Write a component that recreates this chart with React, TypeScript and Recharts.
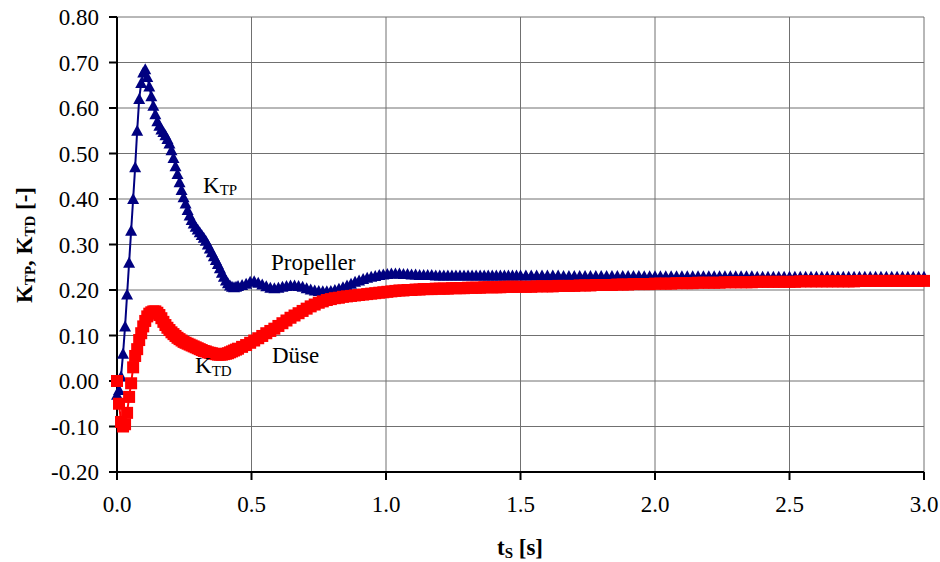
import React from "react";
import { LineChart, Line, XAxis, YAxis, CartesianGrid } from "recharts";

const SERIF = "'Liberation Serif', 'Times New Roman', serif";

// Start-up phase, fine time step (s)
const tA = [
  0, 0.0075, 0.015, 0.0225, 0.03, 0.0375, 0.045, 0.0525, 0.06, 0.0675,
  0.075, 0.0825, 0.09, 0.0975, 0.105, 0.1125, 0.12, 0.1275, 0.135, 0.1425,
  0.15, 0.1575, 0.165, 0.1725, 0.18, 0.1875, 0.195, 0.2025, 0.21, 0.2175,
  0.225, 0.2325, 0.24, 0.2475, 0.255, 0.2625, 0.27, 0.2775, 0.285, 0.2925,
  0.3, 0.3075, 0.315, 0.3225, 0.33, 0.3375, 0.345, 0.3525, 0.36, 0.3675,
  0.375, 0.3825, 0.39, 0.3975, 0.405, 0.4125, 0.42, 0.4275, 0.435, 0.4425,
  0.45,
];
const kTpA = [
  -0.03, -0.02, 0.01, 0.06, 0.12, 0.19, 0.26, 0.33, 0.4, 0.47,
  0.55, 0.62, 0.655, 0.678, 0.685, 0.668, 0.647, 0.626, 0.605, 0.586,
  0.571, 0.561, 0.553, 0.547, 0.54, 0.532, 0.522, 0.507, 0.49, 0.472,
  0.455, 0.437, 0.42, 0.404, 0.39, 0.376, 0.364, 0.354, 0.346, 0.339,
  0.333, 0.327, 0.321, 0.315, 0.308, 0.3, 0.291, 0.283, 0.274, 0.266,
  0.257, 0.248, 0.238, 0.229, 0.221, 0.215, 0.21, 0.207, 0.206, 0.207,
  0.209,
];
const kTdA = [
  0, -0.05, -0.09, -0.1, -0.095, -0.07, -0.035, -0.005, 0.03, 0.055,
  0.07, 0.09, 0.105, 0.12, 0.132, 0.142, 0.148, 0.151, 0.153, 0.153,
  0.15, 0.145, 0.138, 0.13, 0.123, 0.117, 0.112, 0.107, 0.103, 0.099,
  0.095, 0.092, 0.089, 0.086, 0.084, 0.082, 0.08, 0.078, 0.076, 0.074,
  0.072, 0.07, 0.068, 0.066, 0.065, 0.063, 0.062, 0.061, 0.06, 0.059,
  0.058, 0.058, 0.058, 0.059, 0.06, 0.061, 0.063, 0.065, 0.067, 0.069,
  0.071,
];

// Settling phase
const tB = [
  0.465, 0.48, 0.495, 0.51, 0.525, 0.54, 0.555, 0.57, 0.585, 0.6,
  0.615, 0.63, 0.645, 0.66, 0.675, 0.69, 0.705, 0.72, 0.735, 0.75,
  0.765, 0.78, 0.795, 0.81, 0.825, 0.84, 0.855, 0.87, 0.885, 0.9,
  0.915, 0.93, 0.945, 0.96, 0.975, 0.99, 1.005, 1.02, 1.035, 1.05,
  1.065, 1.08, 1.095, 1.11, 1.125, 1.14, 1.155, 1.17, 1.185, 1.2,
  1.215, 1.23, 1.245, 1.26, 1.275, 1.29, 1.305, 1.32, 1.335, 1.35,
  1.365, 1.38, 1.395, 1.41, 1.425, 1.44, 1.455, 1.47, 1.485, 1.5,
];
const kTpB = [
  0.211, 0.214, 0.218, 0.219, 0.216, 0.212, 0.208, 0.205, 0.204, 0.205,
  0.207, 0.209, 0.21, 0.21, 0.209, 0.207, 0.204, 0.201, 0.199, 0.198,
  0.197, 0.197, 0.198, 0.2, 0.203, 0.206, 0.21, 0.214, 0.218, 0.221,
  0.224, 0.227, 0.229, 0.231, 0.233, 0.234, 0.235, 0.236, 0.236, 0.236,
  0.235, 0.235, 0.234, 0.234, 0.233, 0.233, 0.233, 0.233, 0.232, 0.232,
  0.232, 0.232, 0.232, 0.232, 0.232, 0.232, 0.232, 0.232, 0.232, 0.232,
  0.232, 0.232, 0.232, 0.232, 0.232, 0.232, 0.232, 0.232, 0.232, 0.232,
];
const kTdB = [
  0.075, 0.079, 0.084, 0.089, 0.094, 0.099, 0.105, 0.11, 0.115, 0.121,
  0.127, 0.133, 0.139, 0.144, 0.149, 0.154, 0.159, 0.164, 0.168, 0.172,
  0.175, 0.178, 0.18, 0.182, 0.183, 0.185, 0.186, 0.187, 0.188, 0.189,
  0.19, 0.191, 0.192, 0.193, 0.194, 0.195, 0.196, 0.197, 0.198, 0.199,
  0.199, 0.2, 0.2, 0.201, 0.201, 0.202, 0.202, 0.202, 0.203, 0.203,
  0.203, 0.203, 0.204, 0.204, 0.204, 0.204, 0.205, 0.205, 0.205, 0.205,
  0.206, 0.206, 0.206, 0.206, 0.206, 0.207, 0.207, 0.207, 0.207, 0.207,
];

// Steady state
const tC = [
  1.52, 1.54, 1.56, 1.58, 1.6, 1.62, 1.64, 1.66, 1.68, 1.7,
  1.72, 1.74, 1.76, 1.78, 1.8, 1.82, 1.84, 1.86, 1.88, 1.9,
  1.92, 1.94, 1.96, 1.98, 2.0, 2.02, 2.04, 2.06, 2.08, 2.1,
  2.12, 2.14, 2.16, 2.18, 2.2, 2.22, 2.24, 2.26, 2.28, 2.3,
  2.32, 2.34, 2.36, 2.38, 2.4, 2.42, 2.44, 2.46, 2.48, 2.5,
  2.52, 2.54, 2.56, 2.58, 2.6, 2.62, 2.64, 2.66, 2.68, 2.7,
  2.72, 2.74, 2.76, 2.78, 2.8, 2.82, 2.84, 2.86, 2.88, 2.9,
  2.92, 2.94, 2.96, 2.98, 3.0,
];
const kTpC = [
  0.232, 0.232, 0.232, 0.232, 0.232, 0.232, 0.232, 0.231, 0.231, 0.231,
  0.231, 0.231, 0.231, 0.231, 0.231, 0.231, 0.231, 0.231, 0.231, 0.231,
  0.231, 0.231, 0.23, 0.23, 0.23, 0.23, 0.23, 0.23, 0.23, 0.23,
  0.23, 0.23, 0.23, 0.23, 0.23, 0.23, 0.23, 0.23, 0.23, 0.23,
  0.23, 0.23, 0.23, 0.229, 0.229, 0.229, 0.229, 0.229, 0.229, 0.229,
  0.229, 0.229, 0.229, 0.229, 0.229, 0.229, 0.229, 0.229, 0.229, 0.229,
  0.229, 0.229, 0.229, 0.229, 0.229, 0.229, 0.229, 0.229, 0.229, 0.229,
  0.229, 0.229, 0.229, 0.229, 0.229,
];
const kTdC = [
  0.207, 0.207, 0.208, 0.208, 0.208, 0.208, 0.209, 0.209, 0.209, 0.209,
  0.21, 0.21, 0.21, 0.211, 0.211, 0.211, 0.211, 0.212, 0.212, 0.212,
  0.213, 0.213, 0.213, 0.213, 0.214, 0.214, 0.214, 0.214, 0.215, 0.215,
  0.215, 0.215, 0.216, 0.216, 0.216, 0.216, 0.216, 0.217, 0.217, 0.217,
  0.217, 0.217, 0.217, 0.218, 0.218, 0.218, 0.218, 0.218, 0.218, 0.218,
  0.218, 0.219, 0.219, 0.219, 0.219, 0.219, 0.219, 0.219, 0.219, 0.219,
  0.219, 0.219, 0.22, 0.22, 0.22, 0.22, 0.22, 0.22, 0.22, 0.22,
  0.22, 0.22, 0.22, 0.22, 0.22,
];

const X_TICKS = [0, 0.5, 1, 1.5, 2, 2.5, 3];
const Y_TICKS = [-0.2, -0.1, 0, 0.1, 0.2, 0.3, 0.4, 0.5, 0.6, 0.7, 0.8];

const time = [...tA, ...tB, ...tC];
const kTP = [...kTpA, ...kTpB, ...kTpC];
const kTD = [...kTdA, ...kTdB, ...kTdC];
const rows = time.map((t, i) => ({ t, kTP: kTP[i], kTD: kTD[i] }));

const NAVY = "#000080";
const RED = "#FF0000";

function TriangleDot(props: any) {
  const { cx, cy, index } = props;
  if (cx == null || cy == null) return <g key={`tp-${index}`} />;
  return (
    <polygon
      key={`tp-${index}`}
      points={`${cx},${cy - 6} ${cx - 6},${cy + 5} ${cx + 6},${cy + 5}`}
      fill={NAVY}
    />
  );
}

function SquareDot(props: any) {
  const { cx, cy, index } = props;
  if (cx == null || cy == null) return <g key={`td-${index}`} />;
  return <rect key={`td-${index}`} x={cx - 6} y={cy - 6} width={12} height={12} fill={RED} />;
}

const tickStyle = { fill: "#000", fontSize: 23, fontFamily: SERIF };
const axisStroke = { stroke: "#000", strokeWidth: 2 };

export default function App() {
  return (
    <div style={{ position: "absolute", left: 0, top: 0, width: 940, height: 562, background: "#fff" }}>
      <LineChart
        width={940}
        height={562}
        data={rows}
        margin={{ top: 17, right: 16, bottom: 0, left: 0 }}
      >
        <CartesianGrid
          stroke="#707070"
          strokeWidth={1}
          horizontalValues={Y_TICKS}
          verticalValues={X_TICKS}
        />
        <XAxis
          dataKey="t"
          type="number"
          domain={[0, 3]}
          ticks={X_TICKS}
          interval={0}
          tickFormatter={(v: number) => v.toFixed(1)}
          height={90}
          tickSize={8}
          tickMargin={16}
          tick={tickStyle}
          axisLine={axisStroke}
          tickLine={axisStroke}
        />
        <YAxis
          type="number"
          domain={[-0.2, 0.8]}
          ticks={Y_TICKS}
          interval={0}
          tickFormatter={(v: number) => v.toFixed(2)}
          width={117}
          tickSize={8}
          tickMargin={10}
          tick={tickStyle}
          axisLine={axisStroke}
          tickLine={axisStroke}
        />
        <Line
          dataKey="kTP"
          type="linear"
          stroke={NAVY}
          strokeWidth={2}
          dot={TriangleDot}
          activeDot={false}
          isAnimationActive={false}
        />
        <Line
          dataKey="kTD"
          type="linear"
          stroke={RED}
          strokeWidth={2}
          dot={SquareDot}
          activeDot={false}
          isAnimationActive={false}
        />
      </LineChart>
      <svg
        width={940}
        height={562}
        style={{ position: "absolute", left: 0, top: 0, pointerEvents: "none" }}
        fontFamily={SERIF}
        fill="#000"
      >
        <text x={203} y={193} fontSize={23}>
          K<tspan fontSize={15} dy={2}>TP</tspan>
        </text>
        <text x={271} y={270} fontSize={23}>Propeller</text>
        <text x={272} y={363} fontSize={23}>Düse</text>
        <text x={195} y={373} fontSize={23}>
          K<tspan fontSize={15} dy={3}>TD</tspan>
        </text>
        <text
          transform="translate(32,245) rotate(-90)"
          textAnchor="middle"
          fontWeight="bold"
          fontSize={23}
        >
          K<tspan fontSize={15} dy={3}>TP</tspan>
          <tspan dy={-3}>, K</tspan>
          <tspan fontSize={15} dy={3}>TD</tspan>
          <tspan dy={-3}> [-]</tspan>
        </text>
        <text x={520} y={555} textAnchor="middle" fontWeight="bold" fontSize={23}>
          t<tspan fontSize={15} dy={3}>S</tspan>
          <tspan dy={-3}> [s]</tspan>
        </text>
      </svg>
    </div>
  );
}
